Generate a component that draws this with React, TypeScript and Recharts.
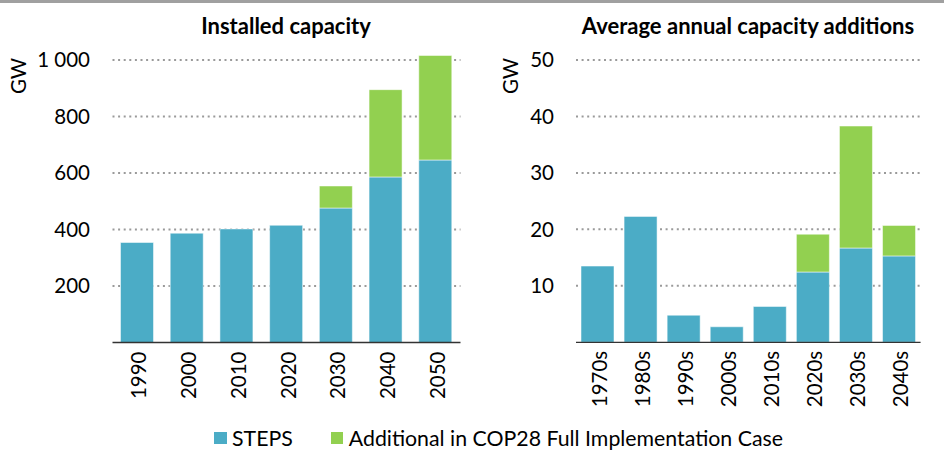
import React from 'react';
import { BarChart, Bar, XAxis, YAxis, CartesianGrid } from 'recharts';

const installedYears = ['1990', '2000', '2010', '2020', '2030', '2040', '2050'];
const installedSteps = [354, 387, 402, 415, 476, 586, 646];
const installedExtra = [0, 0, 0, 0, 78, 309, 370];
const installedTicks = [200, 400, 600, 800, 1000];
const installedMax = 1100;

const decades = ['1970s', '1980s', '1990s', '2000s', '2010s', '2020s', '2030s', '2040s'];
const additionsSteps = [13.5, 22.3, 4.8, 2.75, 6.35, 12.45, 16.7, 15.3];
const additionsExtra = [0, 0, 0, 0, 0, 6.7, 21.6, 5.4];
const additionsTicks = [10, 20, 30, 40, 50];
const additionsMax = 55;

const titles = ['Installed capacity', 'Average annual capacity additions'];
const unitLabel = 'GW';
const seriesNames = ['STEPS', 'Additional in COP28 Full Implementation Case'];

const BLUE = '#4BACC6';
const GREEN = '#92D050';
const FONT = 'Lato, "Open Sans", sans-serif';

const installedData = installedYears.map((y, i) => ({
  name: y,
  steps: installedSteps[i],
  extra: installedExtra[i],
}));
const additionsData = decades.map((d, i) => ({
  name: d,
  steps: additionsSteps[i],
  extra: additionsExtra[i],
}));

const fmt = (v: number) => String(v).replace(/\B(?=(\d{3})+(?!\d))/g, ' ');

const RotTick = (props: any) => {
  const { x, y, payload } = props;
  return (
    <text
      transform={`translate(${x + 1},${y}) rotate(-90)`}
      textAnchor="end"
      dominantBaseline="central"
      fontFamily={FONT}
      fontSize={20.5}
      fill="#000"
    >
      {payload.value}
    </text>
  );
};

const gridProps = {
  vertical: false,
  stroke: '#9a9a9a',
  strokeWidth: 2,
  strokeDasharray: '2 3.6',
};

const makeGen = (ticks: number[], max: number) => (p: any) => {
  const s = p?.yAxis?.scale;
  let f: ((v: number) => number) | null = null;
  if (typeof s === 'function') f = (v) => s(v);
  else if (s && typeof s.map === 'function') f = (v) => s.map(v);
  else if (s && typeof s.apply === 'function') f = (v) => s.apply(v);
  if (f) {
    try {
      const r = ticks.map((t) => Number(f!(t)));
      if (r.every((v) => Number.isFinite(v))) return r;
    } catch (e) {
      /* fall through */
    }
  }
  const off = p?.offset;
  if (off) return ticks.map((t) => off.top + off.height * (1 - t / max));
  return [];
};

export default function App() {
  return (
    <div
      style={{
        position: 'absolute',
        left: 0,
        top: 0,
        width: 948,
        height: 450,
        background: '#fff',
        overflow: 'hidden',
      }}
    >
      <div
        style={{
          position: 'absolute',
          left: 0,
          top: 0,
          width: 944,
          height: 3,
          background: '#a0a0a0',
        }}
      />
      <div style={{ position: 'absolute', left: 0, top: 0 }}>
        <BarChart
          width={474}
          height={450}
          data={installedData}
          margin={{ top: 31.75, right: 13.5, bottom: 0, left: 0 }}
          barSize={33}
        >
          <CartesianGrid {...gridProps} horizontalCoordinatesGenerator={makeGen(installedTicks, installedMax)} />
          <XAxis
            dataKey="name"
            height={107.5}
            tickLine={false}
            tickSize={0}
            tickMargin={9}
            axisLine={{ stroke: '#333', strokeWidth: 1.3 }}
            tick={<RotTick />}
            interval={0}
          />
          <YAxis
            width={112.5}
            domain={[0, installedMax]}
            ticks={installedTicks}
            axisLine={false}
            tickLine={false}
            tickSize={0}
            tickMargin={22.5}
            tickFormatter={fmt}
            tick={{ fontFamily: FONT, fontSize: 20.5, fill: '#000' }}
          />
          <Bar dataKey="steps" stackId="a" fill={BLUE} stroke="#ffffff" strokeOpacity={0.5} strokeWidth={1} isAnimationActive={false} />
          <Bar dataKey="extra" stackId="a" fill={GREEN} stroke="#ffffff" strokeOpacity={0.5} strokeWidth={1} isAnimationActive={false} />
        </BarChart>
      </div>
      <div style={{ position: 'absolute', left: 474, top: 0 }}>
        <BarChart
          width={474}
          height={450}
          data={additionsData}
          margin={{ top: 31.75, right: 27.4, bottom: 0, left: 0 }}
          barSize={33}
        >
          <CartesianGrid {...gridProps} horizontalCoordinatesGenerator={makeGen(additionsTicks, additionsMax)} />
          <XAxis
            dataKey="name"
            height={107.7}
            tickLine={false}
            tickSize={0}
            tickMargin={8.5}
            axisLine={{ stroke: '#333', strokeWidth: 1.3 }}
            tick={<RotTick />}
            interval={0}
          />
          <YAxis
            width={102}
            domain={[0, additionsMax]}
            ticks={additionsTicks}
            axisLine={false}
            tickLine={false}
            tickSize={0}
            tickMargin={22}
            tick={{ fontFamily: FONT, fontSize: 20.5, fill: '#000' }}
          />
          <Bar dataKey="steps" stackId="a" fill={BLUE} stroke="#ffffff" strokeOpacity={0.5} strokeWidth={1} isAnimationActive={false} />
          <Bar dataKey="extra" stackId="a" fill={GREEN} stroke="#ffffff" strokeOpacity={0.5} strokeWidth={1} isAnimationActive={false} />
        </BarChart>
      </div>
      <svg
        width={948}
        height={450}
        style={{ position: 'absolute', left: 0, top: 0, pointerEvents: 'none' }}
      >
        <text x={286} y={34} textAnchor="middle" fontFamily={FONT} fontWeight={700} fontSize={22} fill="#000">
          {titles[0]}
        </text>
        <text x={748} y={34} textAnchor="middle" fontFamily={FONT} fontWeight={700} fontSize={22} fill="#000">
          {titles[1]}
        </text>
        <text
          transform="translate(17.5,76) rotate(-90)"
          textAnchor="middle"
          dominantBaseline="central"
          fontFamily={FONT}
          fontSize={20.5}
          fill="#000"
        >
          {unitLabel}
        </text>
        <text
          transform="translate(509.5,76) rotate(-90)"
          textAnchor="middle"
          dominantBaseline="central"
          fontFamily={FONT}
          fontSize={20.5}
          fill="#000"
        >
          {unitLabel}
        </text>
      </svg>
      <div
        style={{
          position: 'absolute',
          left: 214,
          top: 427,
          height: 22,
          display: 'flex',
          alignItems: 'center',
          fontFamily: FONT,
          fontSize: 21.3,
          color: '#000',
          whiteSpace: 'nowrap',
        }}
      >
        {seriesNames.map((n, i) => (
          <div key={n} style={{ display: 'flex', alignItems: 'center', marginRight: i === 0 ? 38 : 0 }}>
            <div style={{ width: 12.5, height: 12.5, background: i === 0 ? BLUE : GREEN, marginRight: 5.5 }} />
            <span>{n}</span>
          </div>
        ))}
      </div>
    </div>
  );
}
